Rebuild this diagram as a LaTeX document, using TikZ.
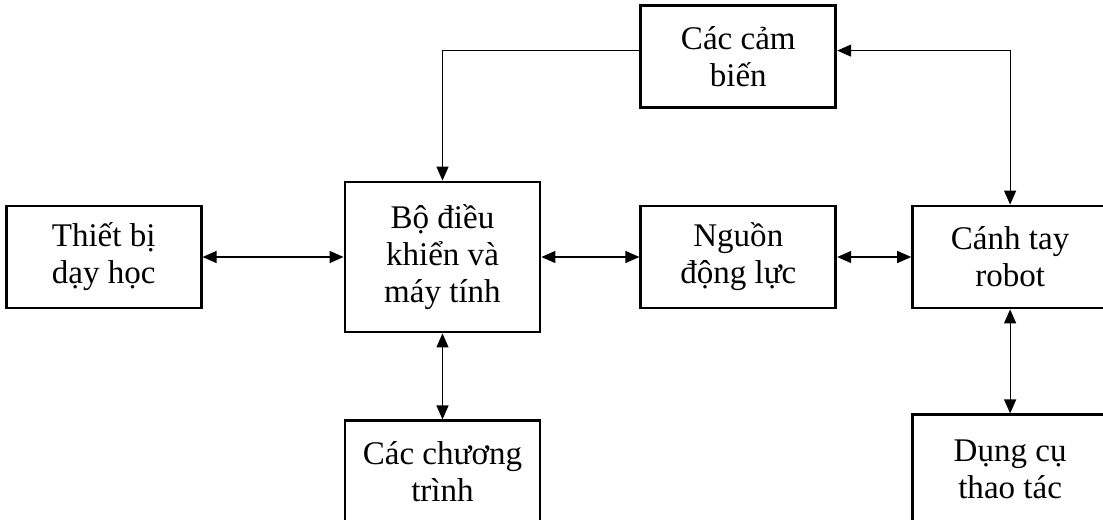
\documentclass[tikz,border=0pt]{standalone}
\usepackage{fontspec}
\setmainfont{Liberation Serif}
\usepackage{tikz}
\usetikzlibrary{arrows.meta, positioning}

\begin{document}
\begin{tikzpicture}[
    node distance=2.4cm and 2.45cm,
    block/.style={rectangle, draw, line width=2pt, minimum width=4.875cm, minimum height=2.55cm, align=center, font=\fontsize{23.5}{26.3}\selectfont},
    arrow/.style={{Triangle[length=3.5mm, width=3mm]}-{Triangle[length=3.5mm, width=3mm]}, line width=0.9pt},
]
\useasboundingbox (-11.0625,-6.55) rectangle (16.5125,6.425);
\clip (-11.0625,-6.55) rectangle (16.5125,6.425);

\node[block, minimum height=3.75cm] (ctrl) at (0,0) {Bộ điều\\khiển và\\máy tính};
\node[block, left=3.525cm of ctrl]   (teach)  {Thiết bị\\dạy học};
\node[block, right=2.45cm of ctrl]   (power)  {Nguồn\\động lực};
\node[block, right=1.85cm of power]  (arm)    {Cánh tay\\robot};
\node[block, above=2.4cm of power]   (sensor) {Các cảm\\biến};
\node[block, below=2.15cm of ctrl]   (prog)   {Các chương\\trình};
\node[block, minimum height=2.75cm, below=2.6cm of arm] (tool) {Dụng cụ\\thao tác};

\draw[arrow] (teach) -- (ctrl);
\draw[arrow] (ctrl)  -- (power);
\draw[arrow] (power) -- (arm);
\draw[arrow] (ctrl)  -- (prog);
\draw[arrow] (arm)   -- (tool);
\draw[arrow, -{Triangle[length=3.5mm, width=3mm]}] ([yshift=0.14cm]sensor.west) -| (ctrl.north);
\draw[arrow] ([yshift=0.14cm]sensor.east) -| (arm.north);

\end{tikzpicture}
\end{document}
